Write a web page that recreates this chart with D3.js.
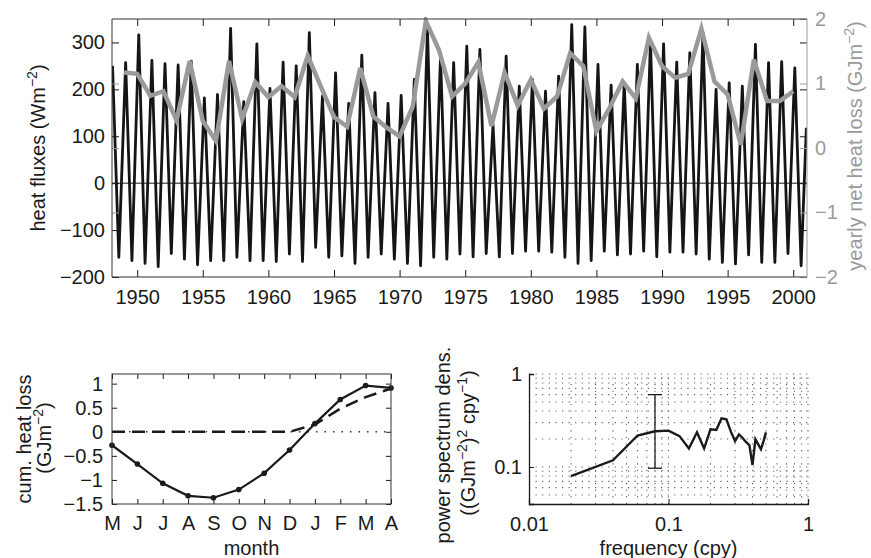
<!DOCTYPE html>
<html>
<head>
<meta charset="utf-8">
<script src="https://cdn.jsdelivr.net/npm/d3@7"></script>
<style>
  body { margin: 0; background: #fff; }
  svg { display: block; font-family: "Liberation Sans", Arial, sans-serif; }
  .tick text { font-size: 20px; }
</style>
</head>
<body>
<script>
// ---- data ----
// monthly heat flux: winter maxima and summer minima, one per year 1948..2000 (W m^-2)
const fluxYears = d3.range(1948, 2001);
const fluxPeak = [250, 257, 316, 262, 255, 252, 260, 182, 189, 330, 174, 297, 202, 258, 250, 321,
  186, 235, 170, 273, 193, 170, 187, 221, 331, 271, 257, 292, 285, 125, 271, 207, 221, 196, 228,
  338, 333, 253, 209, 214, 253, 303, 297, 258, 278, 321, 200, 214, 207, 296, 257, 259, 246];
const fluxTrough = [-158, -165, -171, -178, -150, -162, -174, -165, -165, -158, -165, -165, -167,
  -151, -167, -137, -158, -155, -171, -158, -151, -162, -171, -176, -158, -162, -151, -157, -150,
  -157, -150, -145, -145, -147, -158, -171, -165, -145, -153, -151, -145, -157, -147, -147, -151,
  -162, -169, -172, -153, -169, -169, -150, -176];
const fluxEnd = [2001.0, 118];

// yearly net heat loss 1949..2000 (GJ m^-2)
const lossYears = d3.range(1949, 2001);
const yearlyLoss = [1.17, 1.15, 0.81, 0.88, 0.43, 1.35, 0.42, 0.11, 1.35, 0.45, 1.02, 0.79, 0.96,
  0.79, 1.43, 0.95, 0.48, 0.33, 1.24, 0.49, 0.32, 0.18, 0.64, 1.97, 1.52, 0.80, 1.00, 1.33, 0.34,
  1.17, 0.66, 1.06, 0.61, 0.80, 1.47, 1.27, 0.26, 0.62, 1.03, 0.77, 1.71, 1.27, 1.09, 1.15, 1.85,
  1.03, 0.83, 0.05, 1.37, 0.73, 0.73, 0.88];

// cumulative heat loss by month (May..April)
const months = ["M", "J", "J", "A", "S", "O", "N", "D", "J", "F", "M", "A"];
const cumLoss = [-0.28, -0.67, -1.07, -1.33, -1.37, -1.2, -0.86, -0.38, 0.17, 0.67, 0.96, 0.91];
const cumDashed = [0, 0, 0, 0, 0, 0, 0, 0, 0.15, 0.48, 0.72, 0.9];

// power spectrum
const freqs = [0.02, 0.04, 0.06, 0.08, 0.10, 0.12, 0.14, 0.16, 0.18, 0.20, 0.22, 0.24, 0.26,
  0.28, 0.30, 0.32, 0.34, 0.36, 0.38, 0.40, 0.42, 0.44, 0.46, 0.48, 0.50];
const psd = [0.080, 0.118, 0.218, 0.242, 0.246, 0.215, 0.158, 0.236, 0.158, 0.254, 0.25, 0.334,
  0.326, 0.24, 0.19, 0.224, 0.205, 0.185, 0.172, 0.105, 0.198, 0.175, 0.155, 0.19, 0.236];
const errFreq = 0.08, errLow = 0.097, errHigh = 0.6;

const width = 871, height = 558;
const ink = "#1a1a1a", grey = "#9a9a9a";
const fs = 20;

const svg = d3.select("body").append("svg")
  .attr("width", width)
  .attr("height", height);

function richText(sel, parts) {
  let up = false;
  parts.forEach(([t, sup]) => {
    const ts = sel.append("tspan").text(t);
    if (sup) {
      ts.attr("font-size", 14);
      if (!up) { ts.attr("dy", -8); up = true; }
    } else if (up) {
      ts.attr("dy", 8); up = false;
    }
  });
}

function vLabel(x, y, parts, color) {
  const t = svg.append("text")
    .attr("transform", `translate(${x},${y}) rotate(-90)`)
    .attr("text-anchor", "middle")
    .attr("font-size", fs)
    .attr("fill", color || ink);
  richText(t, parts);
}

const noDomain = g => g.select(".domain").remove();
const fmt = d3.format("~g");

// ================= top panel =================
const P = { left: 112, right: 807, top: 19, bottom: 277 };
const x = d3.scaleLinear().domain([1948.08, 2001.05]).range([P.left, P.right]);
const yL = d3.scaleLinear().domain([-200, 350]).range([P.bottom, P.top]);
const yR = d3.scaleLinear().domain([-2, 2]).range([P.bottom, P.top]);

svg.append("clipPath").attr("id", "clipTop")
  .append("rect").attr("x", P.left).attr("y", P.top - 2)
  .attr("width", P.right - P.left).attr("height", P.bottom - P.top + 4);

// zero line
svg.append("line")
  .attr("x1", P.left).attr("x2", P.right)
  .attr("y1", yL(0)).attr("y2", yL(0))
  .attr("stroke", ink).attr("stroke-width", 1);

const fluxPts = [];
fluxYears.forEach((yr, i) => {
  fluxPts.push([yr + 0.12, fluxPeak[i]]);
  fluxPts.push([yr + 0.6, fluxTrough[i]]);
});
fluxPts.push(fluxEnd);

svg.append("path")
  .datum(fluxPts)
  .attr("clip-path", "url(#clipTop)")
  .attr("fill", "none")
  .attr("stroke", "#151515")
  .attr("stroke-width", 2.8)
  .attr("stroke-linejoin", "round")
  .attr("d", d3.line().x(d => x(d[0])).y(d => yL(d[1])));

svg.append("path")
  .datum(lossYears.map((yr, i) => [yr, yearlyLoss[i]]))
  .attr("clip-path", "url(#clipTop)")
  .attr("fill", "none")
  .attr("stroke", grey)
  .attr("stroke-width", 4.5)
  .attr("d", d3.line().x(d => x(d[0])).y(d => yR(d[1])));

// axes
const xTicks = d3.range(1950, 2001, 5);
svg.append("g")
  .attr("transform", `translate(0,${P.bottom})`)
  .call(d3.axisBottom(x).tickValues(xTicks).tickFormat(d3.format("d")).tickSize(-7).tickPadding(13))
  .call(noDomain).attr("color", ink);
svg.append("g")
  .attr("transform", `translate(0,${P.top})`)
  .call(d3.axisTop(x).tickValues(xTicks).tickFormat("").tickSize(-7))
  .call(noDomain).attr("color", ink);
svg.append("g")
  .attr("transform", `translate(${P.left},0)`)
  .call(d3.axisLeft(yL).tickValues([-200, -100, 0, 100, 200, 300]).tickSize(-7).tickPadding(7))
  .call(noDomain).attr("color", ink);
svg.append("g")
  .attr("transform", `translate(${P.right},0)`)
  .call(d3.axisRight(yL).tickValues([-100, 0, 100, 200, 300]).tickFormat("").tickSize(-7))
  .call(noDomain).attr("color", ink);
svg.append("g")
  .attr("transform", `translate(${P.right},0)`)
  .call(d3.axisRight(yR).tickValues([-2, -1, 0, 1, 2]).tickFormat(fmt).tickSize(-7).tickPadding(8))
  .call(noDomain).attr("color", grey);
svg.append("g")
  .attr("transform", `translate(${P.left},0)`)
  .call(d3.axisLeft(yR).tickValues([-1, 0, 1]).tickFormat("").tickSize(-7))
  .call(noDomain).attr("color", grey);

// frame
const frame = svg.append("g").attr("fill", "none");
frame.append("path").attr("stroke", "#333")
  .attr("d", `M${P.right},${P.top}H${P.left}V${P.bottom}H${P.right}`);
frame.append("line").attr("stroke", grey)
  .attr("x1", P.right).attr("x2", P.right).attr("y1", P.top).attr("y2", P.bottom);

vLabel(45, 148, [["heat fluxes (Wm"], ["\u22122", true], [")"]]);
vLabel(862, 146, [["yearly net heat loss (GJm"], ["\u22122", true], [")"]], grey);

// ================= bottom left =================
const A = { left: 112, right: 391, top: 374, bottom: 504 };
const xm = d3.scaleLinear().domain([0, 11]).range([A.left, A.right]);
const ym = d3.scaleLinear().domain([-1.5, 1.2]).range([A.bottom, A.top]);
const mIdx = d3.range(months.length);

svg.append("line")
  .attr("x1", A.left).attr("x2", A.right)
  .attr("y1", ym(0)).attr("y2", ym(0))
  .attr("stroke", "#333").attr("stroke-width", 1.5)
  .attr("stroke-dasharray", "1.5,7");

svg.append("path")
  .datum(cumDashed)
  .attr("fill", "none")
  .attr("stroke", ink)
  .attr("stroke-width", 2.5)
  .attr("stroke-dasharray", "13,7")
  .attr("d", d3.line().x((d, i) => xm(i)).y(d => ym(d)));

svg.append("path")
  .datum(cumLoss)
  .attr("fill", "none")
  .attr("stroke", ink)
  .attr("stroke-width", 2.2)
  .attr("d", d3.line().x((d, i) => xm(i)).y(d => ym(d)));

svg.append("g").selectAll("circle")
  .data(cumLoss)
  .join("circle")
  .attr("cx", (d, i) => xm(i))
  .attr("cy", d => ym(d))
  .attr("r", 2.8)
  .attr("fill", ink);

svg.append("g")
  .attr("transform", `translate(0,${A.bottom})`)
  .call(d3.axisBottom(xm).tickValues(mIdx).tickFormat(i => months[i]).tickSize(-5).tickPadding(12))
  .call(noDomain).attr("color", ink);
svg.append("g")
  .attr("transform", `translate(0,${A.top})`)
  .call(d3.axisTop(xm).tickValues(mIdx).tickFormat("").tickSize(-5))
  .call(noDomain).attr("color", ink);
const ymTicks = [-1.5, -1, -0.5, 0, 0.5, 1];
svg.append("g")
  .attr("transform", `translate(${A.left},0)`)
  .call(d3.axisLeft(ym).tickValues(ymTicks).tickFormat(fmt).tickSize(-5).tickPadding(9))
  .call(noDomain).attr("color", ink);
svg.append("g")
  .attr("transform", `translate(${A.right},0)`)
  .call(d3.axisRight(ym).tickValues(ymTicks).tickFormat("").tickSize(-5))
  .call(noDomain).attr("color", ink);
svg.append("rect")
  .attr("x", A.left).attr("y", A.top)
  .attr("width", A.right - A.left).attr("height", A.bottom - A.top)
  .attr("fill", "none").attr("stroke", "#333");

vLabel(31, 439, [["cum. heat loss"]]);
vLabel(51, 438, [["(GJm"], ["\u22122", true], [")"]]);
svg.append("text")
  .attr("x", (A.left + A.right) / 2).attr("y", 555)
  .attr("text-anchor", "middle").attr("font-size", fs).attr("fill", ink)
  .text("month");

// ================= bottom right =================
const B = { left: 529, right: 808, top: 374, bottom: 504 };
const xf = d3.scaleLog().domain([0.01, 1]).range([B.left, B.right]);
const yp = d3.scaleLog().domain([0.04, 1]).range([B.bottom, B.top]);

const gridX = [0.02, 0.03, 0.04, 0.05, 0.06, 0.07, 0.08, 0.09, 0.1,
  0.2, 0.3, 0.4, 0.5, 0.6, 0.7, 0.8, 0.9, 1];
const gridY = [0.05, 0.06, 0.07, 0.08, 0.09, 0.1, 0.2, 0.3, 0.4, 0.5, 0.6, 0.7, 0.8, 0.9, 1];
const grid = svg.append("g")
  .attr("stroke", "#555").attr("stroke-width", 1.1)
  .attr("stroke-dasharray", "1.1,5.5");
grid.selectAll(".gx").data(gridX).join("line")
  .attr("x1", d => xf(d)).attr("x2", d => xf(d))
  .attr("y1", B.bottom).attr("y2", B.top);
grid.selectAll(".gy").data(gridY).join("line")
  .attr("x1", B.left).attr("x2", B.right)
  .attr("y1", d => yp(d)).attr("y2", d => yp(d));

svg.append("path")
  .datum(freqs.map((f, i) => [f, psd[i]]))
  .attr("fill", "none")
  .attr("stroke", ink)
  .attr("stroke-width", 2.4)
  .attr("d", d3.line().x(d => xf(d[0])).y(d => yp(d[1])));

const eb = svg.append("g").attr("stroke", ink).attr("stroke-width", 1.3);
eb.append("line")
  .attr("x1", xf(errFreq)).attr("x2", xf(errFreq))
  .attr("y1", yp(errLow)).attr("y2", yp(errHigh));
[errLow, errHigh].forEach(v => {
  eb.append("line")
    .attr("x1", xf(errFreq) - 7).attr("x2", xf(errFreq) + 7)
    .attr("y1", yp(v)).attr("y2", yp(v));
});

svg.append("g")
  .attr("transform", `translate(0,${B.bottom})`)
  .call(d3.axisBottom(xf).tickValues([0.01, 0.1, 1]).tickFormat(fmt).tickSize(-5).tickPadding(13))
  .call(g => g.select(".domain").attr("stroke", ink).attr("stroke-width", 1.3))
  .attr("color", ink);
svg.append("g")
  .attr("transform", `translate(${B.left},0)`)
  .call(d3.axisLeft(yp).tickValues([0.1, 1]).tickFormat(fmt).tickSize(-5).tickPadding(7))
  .call(g => g.select(".domain").attr("stroke", ink).attr("stroke-width", 1.3))
  .attr("color", ink);

vLabel(450, 445, [["power spectrum dens."]]);
vLabel(475, 443, [["((GJm"], ["\u22122", true], [")"], ["2", true], [" cpy"], ["\u22121", true], [")"]]);
svg.append("text")
  .attr("x", (B.left + B.right) / 2).attr("y", 555)
  .attr("text-anchor", "middle").attr("font-size", fs).attr("fill", ink)
  .text("frequency (cpy)");
</script>
</body>
</html>
